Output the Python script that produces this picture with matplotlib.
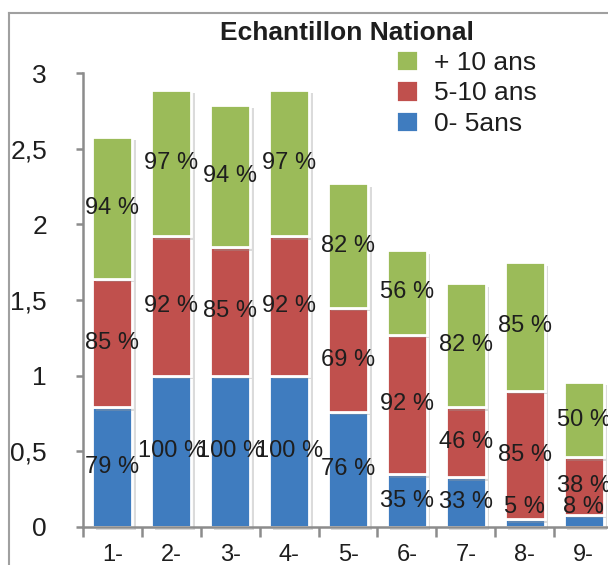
import matplotlib.pyplot as plt
import matplotlib.patheffects as pe
from matplotlib.lines import Line2D
import numpy as np

plt.rcParams['font.family'] = ['Liberation Sans', 'DejaVu Sans']

categories = ['1-', '2-', '3-', '4-', '5-', '6-', '7-', '8-', '9-']
young = [0.79, 1.00, 1.00, 1.00, 0.76, 0.35, 0.33, 0.05, 0.08]   # 0- 5ans
mid = [0.85, 0.92, 0.85, 0.92, 0.69, 0.92, 0.46, 0.85, 0.38]     # 5-10 ans
old = [0.94, 0.97, 0.94, 0.97, 0.82, 0.56, 0.82, 0.85, 0.50]     # + 10 ans
series_names = ['0- 5ans', '5-10 ans', '+ 10 ans']
yticks = [0, 0.5, 1, 1.5, 2, 2.5, 3]

colors = ['#3F7CBF', '#C0504D', '#9BBB59']
axis_grey = '#8c8c8c'
text_col = '#1e1e1e'

W, H = 608, 565
fig = plt.figure(figsize=(W / 100, H / 100), dpi=100)

# axes in pixel terms: x=-0.5 at 83px, y=0 at 527px, y=3 at 73px
ax = fig.add_axes([83 / W, (H - 527) / H, 589 / W, 454 / H])
ax.set_xlim(-0.5, 9.5)
ax.set_ylim(0, 3)
ax.patch.set_alpha(0)

shadow = [pe.SimplePatchShadow(offset=(2.5, -2.5), shadow_rgbFace='#9a9a9a', alpha=0.35), pe.Normal()]

x = np.arange(len(categories))
bottom = np.zeros(len(categories))
for vals, col, name in zip([young, mid, old], colors, series_names):
    vals = np.array(vals)
    bars = ax.bar(x, vals, width=0.68, bottom=bottom, color=col, edgecolor='white',
                  linewidth=2, label=name, zorder=3)
    for b in bars:
        b.set_path_effects(shadow)
        b.set_clip_on(False)
    for xi, b, v in zip(x, bottom, vals):
        yc = max(b + v / 2, 0.13)
        ax.text(xi, yc, f"{round(v * 100)} %", ha='center', va='center',
                fontsize=17, color=text_col, zorder=5)
    bottom = bottom + vals

for s in ['top', 'right']:
    ax.spines[s].set_visible(False)
for s in ['left', 'bottom']:
    ax.spines[s].set_color(axis_grey)
    ax.spines[s].set_linewidth(1.8)
    ax.spines[s].set_zorder(4)
ax.spines['left'].set_bounds(0, 3)

ax.set_yticks(yticks)
ax.set_yticklabels([str(v).replace('.', ',').replace(',0', '') if v != 0 else '0' for v in yticks])
ax.tick_params(axis='y', length=5, width=1.8, color=axis_grey, pad=21,
               labelsize=19, labelcolor=text_col)

ax.set_xticks(x)
ax.set_xticklabels(categories)
ax.set_xticks(np.arange(-0.5, 9.6, 1), minor=True)
ax.tick_params(axis='x', which='major', length=0, pad=12, labelsize=17,
               labelcolor=text_col)
ax.tick_params(axis='x', which='minor', length=7, width=1.8, color=axis_grey)

# outer frame (cut by the image on the right and bottom)
fig.add_artist(Line2D([9 / W, 9 / W], [0, 1 - 13 / H], color='#a0a0a0', lw=1.5))
fig.add_artist(Line2D([9 / W, 1], [1 - 13 / H, 1 - 13 / H], color='#a0a0a0', lw=1.5))

fig.text(347 / W, 1 - 33 / H, 'Echantillon National', ha='center', va='center',
         fontsize=19, fontweight='bold', color=text_col)

h, l = ax.get_legend_handles_labels()
leg = fig.legend(h[::-1], l[::-1], loc='upper left', bbox_to_anchor=(396 / W, 1 - 50 / H),
                 frameon=False, fontsize=19, handlelength=0.85, handleheight=0.85,
                 handletextpad=0.6, labelspacing=0.22, borderpad=0, borderaxespad=0)
for t in leg.get_texts():
    t.set_color(text_col)
for p in leg.get_patches():
    p.set_path_effects([])

fig.savefig('out.png', dpi=100)
